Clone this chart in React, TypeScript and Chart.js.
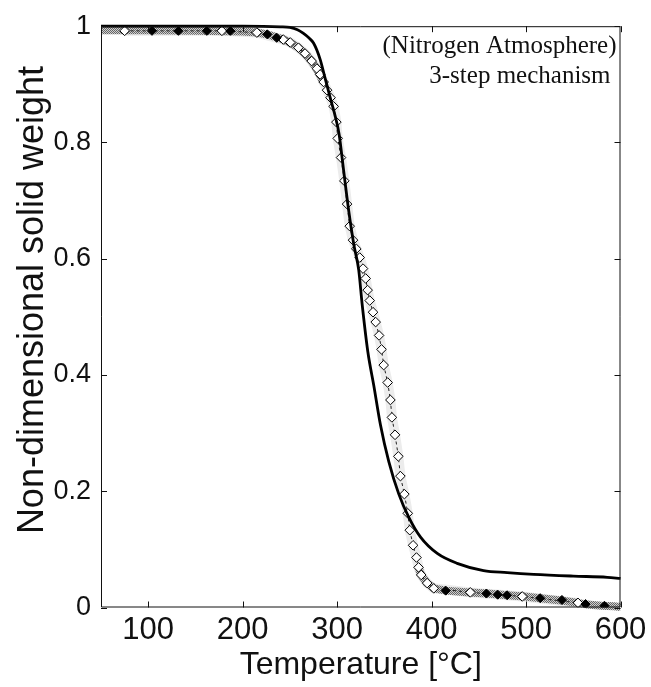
import React, { useEffect, useRef } from 'react';
import { Chart, registerables } from 'chart.js';

Chart.register(...registerables);

// ---------- data ----------
const xTickValues = [100, 200, 300, 400, 500, 600];
const yTickValues = [0, 0.2, 0.4, 0.6, 0.8, 1];

const xTitle = 'Temperature [°C]';
const yTitle = 'Non-dimensional solid weight';
const noteLine1 = '(Nitrogen Atmosphere)';
const noteLine2 = '3-step mechanism';

// dense experimental band (flat parts)
const bandTopT = [50, 100, 150, 200, 215, 228, 243, 250, 259, 266, 273, 279, 285];
const bandTopW = [0.993, 0.993, 0.992, 0.991, 0.989, 0.985, 0.977, 0.972, 0.963, 0.953, 0.94, 0.925, 0.905];
const bandBottomT = [386, 389, 395, 402, 415, 440, 459, 480, 498, 520, 537, 555, 565, 580, 593, 600];
const bandBottomW = [0.069, 0.056, 0.042, 0.033, 0.029, 0.026, 0.024, 0.021, 0.019, 0.015, 0.012, 0.008, 0.005, 0.003, 0.002, 0.001];

// experimental hollow diamonds
const hollowT = [75, 178, 215, 243, 250.4, 259, 266, 273, 278.6, 282, 285.7, 289.3, 293, 296.3, 299.2, 300.6, 304.1, 307.6, 310.5, 313.3, 316.8, 320.3, 323.9, 327.4, 330.2, 332.3, 334.5, 338, 340.8, 344.4, 347, 349.3, 353.5, 356.4, 358, 361.3, 364.8, 367, 371.2, 374.8, 376.9, 380.4, 384, 386.2, 389, 395.3, 402.3, 441, 496, 555];
const hollowW = [0.992, 0.992, 0.989, 0.977, 0.972, 0.963, 0.953, 0.94, 0.927, 0.917, 0.904, 0.89, 0.877, 0.862, 0.835, 0.807, 0.774, 0.734, 0.694, 0.656, 0.632, 0.617, 0.602, 0.583, 0.566, 0.546, 0.528, 0.508, 0.491, 0.468, 0.444, 0.417, 0.387, 0.357, 0.327, 0.297, 0.26, 0.226, 0.195, 0.162, 0.133, 0.107, 0.086, 0.069, 0.056, 0.042, 0.033, 0.026, 0.019, 0.008];

// experimental filled diamonds
const filledT = [104, 132, 162, 187, 226, 236, 415, 458, 470, 480, 515, 538, 563, 583];
const filledW = [0.992, 0.992, 0.992, 0.992, 0.986, 0.98, 0.029, 0.024, 0.022, 0.021, 0.016, 0.013, 0.006, 0.003];

// model (3-step mechanism)
const modelT = [50, 150, 200, 240, 250, 258, 264, 270, 275, 282, 287.5, 293, 298, 302, 307, 312.3, 317.6, 322.9, 326.4, 332.5, 338.8, 345.9, 354.7, 365.3, 375.9, 388.3, 406, 427, 455, 480, 508, 550, 586, 600];
const modelW = [1, 1, 1, 0.999, 0.998, 0.994, 0.988, 0.98, 0.971, 0.943, 0.909, 0.875, 0.845, 0.815, 0.75, 0.682, 0.625, 0.58, 0.523, 0.44, 0.382, 0.314, 0.251, 0.195, 0.155, 0.121, 0.093, 0.076, 0.0635, 0.06, 0.057, 0.054, 0.052, 0.05];

const pts = (xs: number[], ys: number[]) => xs.map((x, i) => ({ x, y: ys[i] }));

function makeStipple(): CanvasPattern | string {
  const c = document.createElement('canvas');
  c.width = 2;
  c.height = 2;
  const g = c.getContext('2d');
  if (!g) return '#9a9a9a';
  g.fillStyle = '#cfcfcf';
  g.fillRect(0, 0, 2, 2);
  g.fillStyle = '#666';
  g.fillRect(0, 0, 1, 1);
  g.fillRect(1, 1, 1, 1);
  const p = g.createPattern(c, 'repeat');
  return p || '#9a9a9a';
}

const framePlugin = {
  id: 'matlabFrame',
  afterDatasetsDraw(chart: any) {
    const { ctx, chartArea: a, scales } = chart;
    const xs = scales.x;
    const ys = scales.y;
    const tl = 6;
    ctx.save();
    ctx.strokeStyle = '#111';
    ctx.lineWidth = 1;
    ctx.beginPath();
    ctx.rect(a.left + 0.5, a.top + 0.5, a.right - a.left - 1, a.bottom - a.top - 1);
    ctx.stroke();
    ctx.beginPath();
    xTickValues.forEach((v) => {
      const px = Math.round(xs.getPixelForValue(v)) + 0.5;
      ctx.moveTo(px, a.bottom);
      ctx.lineTo(px, a.bottom - tl);
      ctx.moveTo(px, a.top);
      ctx.lineTo(px, a.top + tl);
    });
    yTickValues.forEach((v) => {
      const py = Math.round(ys.getPixelForValue(v)) + 0.5;
      ctx.moveTo(a.left, py);
      ctx.lineTo(a.left + tl, py);
      ctx.moveTo(a.right, py);
      ctx.lineTo(a.right - tl, py);
    });
    ctx.stroke();
    ctx.fillStyle = '#111';
    ctx.font = '25px "Liberation Serif", "DejaVu Serif", serif';
    ctx.textAlign = 'right';
    ctx.textBaseline = 'alphabetic';
    ctx.fillText(noteLine1, a.right - 4, 53);
    ctx.fillText(noteLine2, a.right - 10, 83);
    // y axis title
    ctx.translate(33, 300);
    ctx.rotate(-Math.PI / 2);
    ctx.font = '36px "Liberation Sans", Arial, sans-serif';
    ctx.textAlign = 'center';
    ctx.textBaseline = 'middle';
    ctx.fillText(yTitle, 0, 0);
    ctx.restore();
  },
};

export default function App() {
  const ref = useRef<HTMLCanvasElement | null>(null);

  useEffect(() => {
    if (!ref.current) return;
    const stipple = makeStipple();
    const chart = new Chart(ref.current, {
      type: 'line',
      data: {
        datasets: [
          {
            label: 'model',
            data: pts(modelT, modelW),
            borderColor: '#000',
            borderWidth: 2.8,
            pointRadius: 0,
            cubicInterpolationMode: 'monotone',
            fill: false,
            clip: false as any,
            order: 0,
          },
          {
            label: 'exp filled',
            data: pts(filledT, filledW),
            showLine: false,
            pointStyle: 'rectRot',
            pointRadius: 4.5,
            pointBackgroundColor: '#000',
            pointBorderColor: '#000',
            pointBorderWidth: 1,
            order: 1,
          },
          {
            label: 'exp hollow',
            data: pts(hollowT, hollowW),
            borderColor: '#222',
            borderWidth: 1,
            borderDash: [3, 3],
            pointStyle: 'rectRot',
            pointRadius: 4.8,
            pointBackgroundColor: '#fff',
            pointBorderColor: '#000',
            pointBorderWidth: 1,
            fill: false,
            order: 2,
          },
          {
            label: 'band top',
            data: pts(bandTopT, bandTopW),
            borderColor: stipple as any,
            borderWidth: 8,
            pointRadius: 0,
            fill: false,
            clip: false as any,
            order: 3,
          },
          {
            label: 'band bottom',
            data: pts(bandBottomT, bandBottomW),
            borderColor: stipple as any,
            borderWidth: 8,
            pointRadius: 0,
            fill: false,
            clip: false as any,
            order: 3,
          },
          {
            label: 'haze',
            data: pts(hollowT, hollowW),
            borderColor: '#ececec',
            borderWidth: 10,
            pointRadius: 0,
            fill: false,
            order: 4,
          },
        ],
      },
      options: {
        responsive: false,
        animation: false,
        layout: { padding: { top: 19.5, right: 30.5, left: 0, bottom: 0 } },
        plugins: { legend: { display: false }, tooltip: { enabled: false } },
        scales: {
          x: {
            type: 'linear',
            min: 50,
            max: 600,
            grid: { display: false, drawTicks: false },
            border: { display: false },
            afterFit: (s: any) => {
              s.height = 79.5;
            },
            afterBuildTicks: (s: any) => {
              s.ticks = xTickValues.map((v) => ({ value: v }));
            },
            ticks: {
              color: '#111',
              padding: 4,
              maxRotation: 0,
              autoSkip: false,
              font: { family: '"Liberation Sans", Arial, sans-serif', size: 31 },
            },
            title: {
              display: true,
              text: xTitle,
              color: '#111',
              padding: { top: 0, bottom: 3 },
              font: { family: '"Liberation Sans", Arial, sans-serif', size: 32 },
            },
          },
          y: {
            type: 'linear',
            min: 0,
            max: 1,
            grid: { display: false, drawTicks: false },
            border: { display: false },
            afterFit: (s: any) => {
              s.width = 101;
            },
            afterBuildTicks: (s: any) => {
              s.ticks = yTickValues.map((v) => ({ value: v }));
            },
            ticks: {
              color: '#111',
              padding: 10,
              autoSkip: false,
              font: { family: '"Liberation Sans", Arial, sans-serif', size: 27 },
              callback: (v: any) => String(Math.round(Number(v) * 10) / 10),
            },
            title: { display: false },
          },
        },
      },
      plugins: [framePlugin],
    });
    return () => chart.destroy();
  }, []);

  return (
    <div style={{ position: 'absolute', left: 0, top: 0, width: 651, height: 687, background: '#fff' }}>
      <canvas ref={ref} width={651} height={687} style={{ display: 'block' }} />
    </div>
  );
}
